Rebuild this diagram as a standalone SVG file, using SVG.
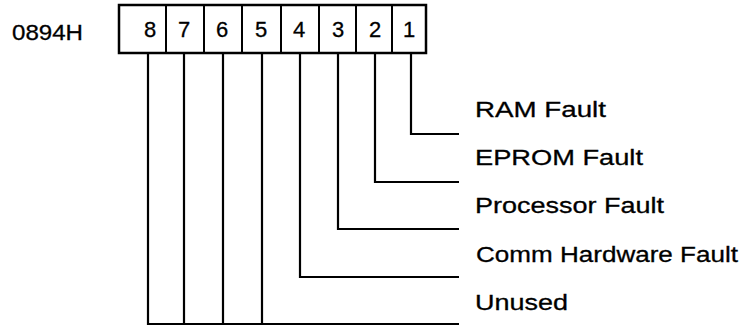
<svg xmlns="http://www.w3.org/2000/svg" width="747" height="326" viewBox="0 0 747 326">
<style>
  .t { font-family: "Liberation Sans", Arial, sans-serif; font-size: 22px; fill: #000; stroke: #000; stroke-width: 0.3; }
  .d { font-family: "Liberation Sans", Arial, sans-serif; font-size: 22px; fill: #000; stroke: #000; stroke-width: 0.3; text-anchor: middle; }
  .box { fill: #fff; stroke: #000; stroke-width: 2.5; }
  .div { stroke: #000; stroke-width: 2; }
  .c { fill: none; stroke: #000; stroke-width: 2.2; }
</style>
<rect width="747" height="326" fill="#fff"/>
<g id="address">
  <text class="t" x="12" y="40" textLength="71" lengthAdjust="spacingAndGlyphs">0894H</text>
</g>
<g id="register">
  <rect class="box" x="119" y="5" width="307" height="48"/>
  <line class="div" x1="166" y1="5" x2="166" y2="53"/>
  <line class="div" x1="204" y1="5" x2="204" y2="53"/>
  <line class="div" x1="242" y1="5" x2="242" y2="53"/>
  <line class="div" x1="281" y1="5" x2="281" y2="53"/>
  <line class="div" x1="319" y1="5" x2="319" y2="53"/>
  <line class="div" x1="356" y1="5" x2="356" y2="53"/>
  <line class="div" x1="392" y1="5" x2="392" y2="53"/>
  <text class="d" x="150" y="37">8</text>
  <text class="d" x="184" y="37">7</text>
  <text class="d" x="222" y="37">6</text>
  <text class="d" x="261" y="37">5</text>
  <text class="d" x="299" y="37">4</text>
  <text class="d" x="338" y="37">3</text>
  <text class="d" x="375" y="37">2</text>
  <text class="d" x="409" y="37">1</text>
</g>
<g id="connectors">
  <polyline class="c" points="411,54 411,134 459,134"/>
  <polyline class="c" points="375,54 375,182 459,182"/>
  <polyline class="c" points="338,54 338,229 459,229"/>
  <polyline class="c" points="300,54 300,277 459,277"/>
  <line class="c" x1="262" y1="54" x2="262" y2="324"/>
  <line class="c" x1="223" y1="54" x2="223" y2="324"/>
  <line class="c" x1="184" y1="54" x2="184" y2="324"/>
  <polyline class="c" points="148,54 148,324 459,324"/>
</g>
<g id="label-ram">
  <text class="t" x="475" y="117" textLength="131" lengthAdjust="spacingAndGlyphs">RAM Fault</text>
</g>
<g id="label-eprom">
  <text class="t" x="475" y="165" textLength="168" lengthAdjust="spacingAndGlyphs">EPROM Fault</text>
</g>
<g id="label-processor">
  <text class="t" x="475" y="213" textLength="189" lengthAdjust="spacingAndGlyphs">Processor Fault</text>
</g>
<g id="label-comm">
  <text class="t" x="476" y="262" textLength="262" lengthAdjust="spacingAndGlyphs">Comm Hardware Fault</text>
</g>
<g id="label-unused">
  <text class="t" x="475" y="310" textLength="93" lengthAdjust="spacingAndGlyphs">Unused</text>
</g>
</svg>
